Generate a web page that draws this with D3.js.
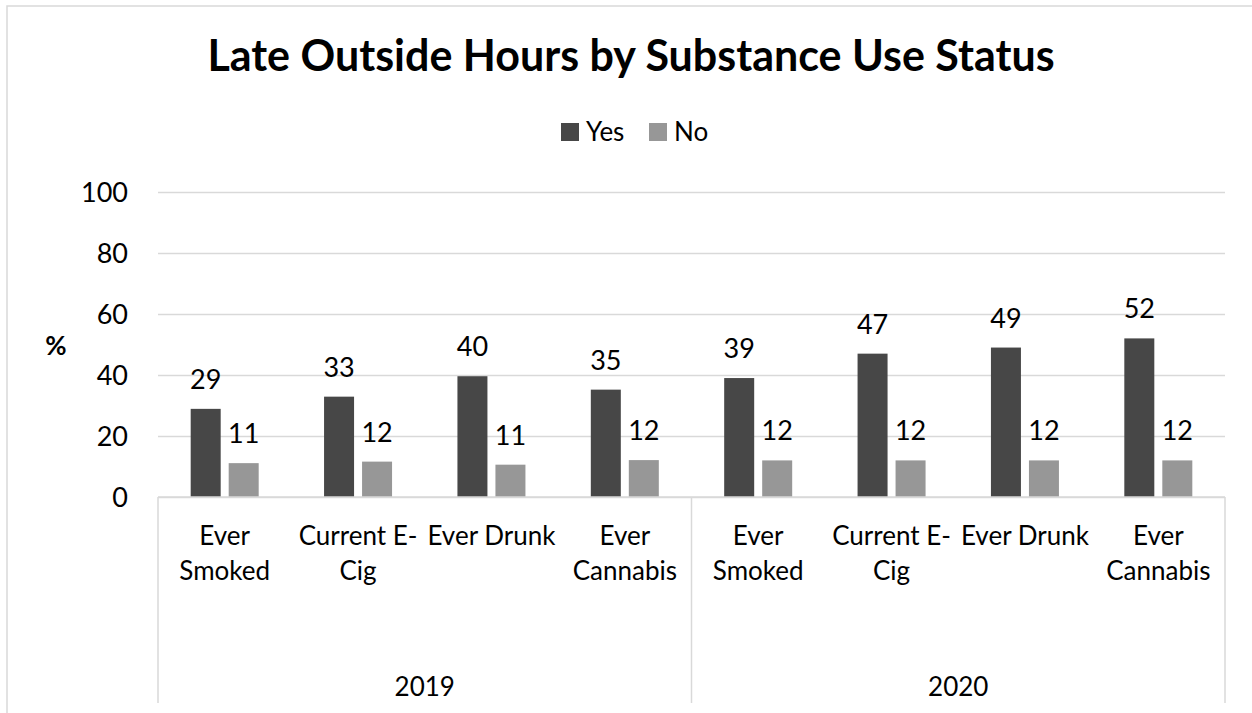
<!DOCTYPE html>
<html>
<head>
<meta charset="utf-8">
<script src="https://cdn.jsdelivr.net/npm/d3@7"></script>
<style>
html,body{margin:0;padding:0;background:#fff;}
svg{display:block;font-family:Lato,"Open Sans",sans-serif;}
</style>
</head>
<body>
<svg id="chart" width="1252" height="713"></svg>
<script>
// ---- data ----
const title = "Late Outside Hours by Substance Use Status";
const years = ["2019", "2020"];
const categories = ["Ever Smoked", "Current E-Cig", "Ever Drunk", "Ever Cannabis"];
const categoryLines = [["Ever", "Smoked"], ["Current E-", "Cig"], ["Ever Drunk"], ["Ever", "Cannabis"]];
const seriesNames = ["Yes", "No"];
const yesValues = [28.9, 32.9, 39.6, 35.2, 39.0, 47.0, 49.0, 52.0];
const noValues = [11.1, 11.6, 10.6, 12.1, 12.0, 12.0, 12.0, 12.0];
const yTicks = [0, 20, 40, 60, 80, 100];
const yLabel = "%";

const colors = {Yes: "#474747", No: "#979797"};
const gridColor = "#d9d9d9";

const svg = d3.select("#chart");
const W = 1252, H = 713;
const plot = {left: 158, right: 1225, top: 192, bottom: 497};

// outer chart border
svg.append("rect").attr("x", 7).attr("y", 6).attr("width", W).attr("height", H)
  .attr("fill", "#fff").attr("stroke", gridColor).attr("stroke-width", 1.5);

// rows
const rows = [];
years.forEach((yr, yi) => categories.forEach((c, ci) => {
  const i = yi * categories.length + ci;
  rows.push({key: yr + "|" + c, year: yr, ci, Yes: yesValues[i], No: noValues[i]});
}));

const x = d3.scaleBand().domain(rows.map(r => r.key)).range([plot.left, plot.right]).padding(0);
const xYear = d3.scaleBand().domain(years).range([plot.left, plot.right]).padding(0);
const inner = d3.scaleBand().domain(seriesNames).range([0, 68]).paddingInner(0.2105).paddingOuter(0);
const y = d3.scaleLinear().domain([0, 100]).range([plot.bottom, plot.top]);

// gridlines
const grid = svg.append("g").attr("transform", `translate(${plot.left},0)`)
  .call(d3.axisLeft(y).tickValues(yTicks).tickSize(-(plot.right - plot.left)).tickFormat(""));
grid.select(".domain").remove();
grid.selectAll("line").attr("stroke", gridColor).attr("stroke-width", 1.5);

// y tick labels
const yAxis = svg.append("g").attr("transform", `translate(128,0)`)
  .call(d3.axisLeft(y).tickValues(yTicks).tickSize(0).tickPadding(0).tickFormat(d3.format("d")));
yAxis.select(".domain").remove();
yAxis.selectAll("text").attr("font-family", "Lato").attr("font-size", 27).attr("fill", "#000").attr("dy", "0.35em");

// y label
svg.append("text").attr("x", 56).attr("y", 355).attr("text-anchor", "middle")
  .attr("font-size", 26).attr("font-weight", "bold").attr("fill", "#000").text(yLabel);

// bars
const groups = svg.append("g").selectAll("g").data(rows).join("g")
  .attr("transform", d => `translate(${x(d.key) + x.bandwidth() / 2 - 34},0)`);
groups.selectAll("rect").data(d => seriesNames.map(s => ({s, v: d[s]}))).join("rect")
  .attr("x", d => inner(d.s)).attr("width", inner.bandwidth())
  .attr("y", d => y(d.v)).attr("height", d => y(0) - y(d.v))
  .attr("fill", d => colors[d.s]);
groups.selectAll("text").data(d => seriesNames.map(s => ({s, v: d[s]}))).join("text")
  .attr("x", d => inner(d.s) + inner.bandwidth() / 2).attr("y", d => y(d.v) - 20)
  .attr("text-anchor", "middle").attr("font-size", 27).attr("fill", "#000")
  .text(d => d3.format(".0f")(d.v));

// x-axis line and separators
svg.append("line").attr("x1", plot.left).attr("x2", plot.right).attr("y1", plot.bottom).attr("y2", plot.bottom)
  .attr("stroke", gridColor).attr("stroke-width", 1.5);
const seps = [plot.left].concat(years.map(yr => xYear(yr) + xYear.bandwidth()));
svg.append("g").selectAll("line").data(seps).join("line")
  .attr("x1", d => d).attr("x2", d => d).attr("y1", plot.bottom).attr("y2", 703)
  .attr("stroke", gridColor).attr("stroke-width", 1.5);

// category labels
const catG = svg.append("g").selectAll("text").data(rows).join("text")
  .attr("text-anchor", "middle").attr("font-size", 26).attr("fill", "#000");
catG.selectAll("tspan").data(d => categoryLines[d.ci].map(l => ({l, cx: x(d.key) + x.bandwidth() / 2})))
  .join("tspan").attr("x", d => d.cx).attr("y", (d, i) => 545 + i * 35).text(d => d.l);

// year labels
svg.append("g").selectAll("text").data(years).join("text")
  .attr("x", d => xYear(d) + xYear.bandwidth() / 2).attr("y", 696)
  .attr("text-anchor", "middle").attr("font-size", 26).attr("fill", "#000").text(d => d);

// title
svg.append("text").attr("x", 631).attr("y", 71).attr("text-anchor", "middle")
  .attr("font-size", 43).attr("font-weight", "bold").attr("fill", "#000").text(title);

// legend
const legendPos = {Yes: 561, No: 649};
const lg = svg.append("g").selectAll("g").data(seriesNames).join("g")
  .attr("transform", d => `translate(${legendPos[d]},123)`);
lg.append("rect").attr("width", 18).attr("height", 18).attr("fill", d => colors[d]);
lg.append("text").attr("x", 25).attr("y", 18).attr("font-size", 26).attr("fill", "#000").text(d => d);
</script>
</body>
</html>
